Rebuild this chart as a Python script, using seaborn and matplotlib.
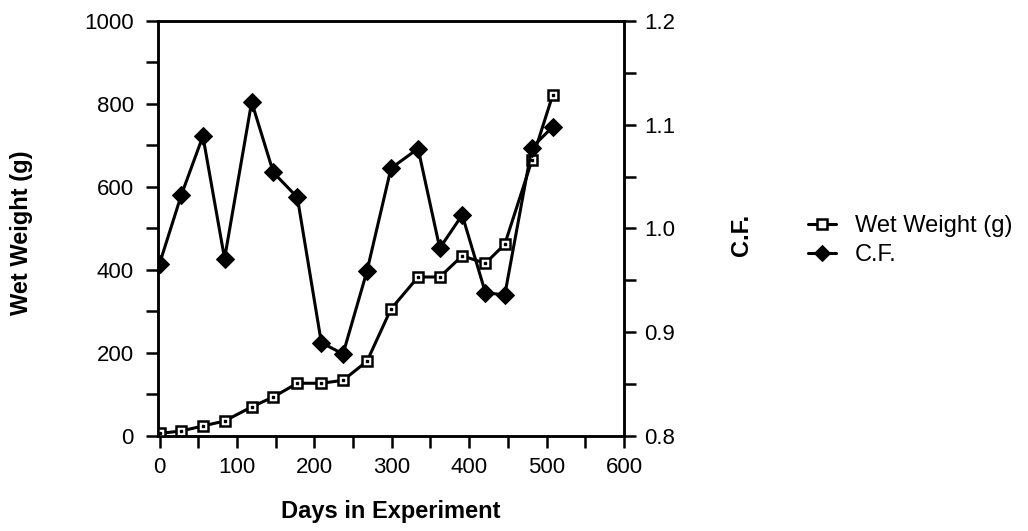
import matplotlib
matplotlib.use("Agg")
import matplotlib.pyplot as plt
import seaborn as sns
import pandas as pd
from matplotlib.ticker import MultipleLocator

sns.set_theme(style="ticks", rc={"text.color": "black", "axes.labelcolor": "black",
                                  "xtick.color": "black", "ytick.color": "black"})
plt.rcParams['font.family'] = ['Liberation Sans', 'DejaVu Sans']

# values
days = [0, 28, 56, 84, 119, 147, 178, 209, 237, 268, 299, 334, 362, 391, 421, 446, 481, 508]
wet_weight = [6, 12, 24, 36, 70, 94, 127, 127, 134, 180, 306, 383, 383, 434, 416, 462, 664, 822]
cond_factor = [0.966, 1.032, 1.089, 0.971, 1.122, 1.054, 1.030, 0.890, 0.879, 0.959,
               1.058, 1.077, 0.981, 1.013, 0.938, 0.936, 1.078, 1.098]

df = pd.DataFrame({"days": days, "ww": wet_weight, "cf": cond_factor})

fig = plt.figure(figsize=(10.28, 5.31), dpi=100)
ax = fig.add_axes([0.1537, 0.179, 0.4533, 0.7815])
ax2 = ax.twinx()

sns.lineplot(data=df, x="days", y="ww", ax=ax, color="black", lw=2.2,
             marker="s", markersize=7.5, markerfacecolor="white",
             markeredgecolor="black", markeredgewidth=1.8, label="Wet Weight (g)",
             legend=False, zorder=3)
# little dot inside each open square, as in the original
ax.plot(df["days"], df["ww"], ls="none", marker="s", markersize=2,
        color="black", zorder=4)
sns.lineplot(data=df, x="days", y="cf", ax=ax2, color="black", lw=2.2,
             marker="D", markersize=9, markerfacecolor="black",
             markeredgecolor="black", label="C.F.", legend=False, zorder=3)

ax.set_xlim(-2, 600)
ax.set_ylim(0, 1000)
ax2.set_ylim(0.8, 1.2)
ax.xaxis.set_major_locator(MultipleLocator(100))
ax.xaxis.set_minor_locator(MultipleLocator(50))
ax.yaxis.set_major_locator(MultipleLocator(200))
ax.yaxis.set_minor_locator(MultipleLocator(100))
ax2.yaxis.set_major_locator(MultipleLocator(0.1))
ax2.yaxis.set_minor_locator(MultipleLocator(0.05))
ax2.set_yticks([0.8, 0.9, 1.0, 1.1, 1.2], ["0.8", "0.9", "1.0", "1.1", "1.2"])

for a in (ax, ax2):
    for s in a.spines.values():
        s.set_linewidth(1.8)
        s.set_color("black")
    a.tick_params(which="both", direction="out", width=1.8, length=8.5,
                  labelsize=16, color="black", labelcolor="black")
ax.tick_params(axis="y", pad=9)
ax.tick_params(axis="x", pad=7)
ax2.tick_params(axis="y", pad=6)

ax.set_xlabel("Days in Experiment", fontsize=17, fontweight="bold", color="black")
ax.set_ylabel("Wet Weight (g)", fontsize=17, fontweight="bold", color="black")
ax2.set_ylabel("C.F.", fontsize=17, fontweight="bold", color="black")
ax.xaxis.set_label_coords(0.5, -0.155)
ax.yaxis.set_label_coords(-0.268, 0.49)
ax2.yaxis.set_label_coords(1.227, 0.485)

h1, l1 = ax.get_legend_handles_labels()
h2, l2 = ax2.get_legend_handles_labels()
leg = fig.legend(h1 + h2, l1 + l2, loc="center left", bbox_to_anchor=(0.765, 0.547),
                 frameon=False, fontsize=17, handlelength=1.2, handletextpad=0.8,
                 labelspacing=0.3, markerscale=0.9)
for t in leg.get_texts():
    t.set_color("black")

fig.savefig("out.png", dpi=100)
